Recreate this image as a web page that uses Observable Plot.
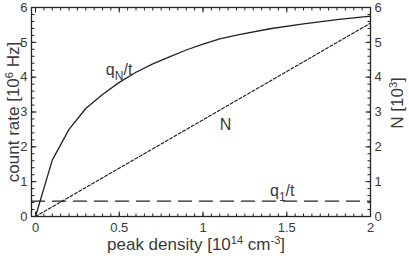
<!DOCTYPE html>
<html><head><meta charset="utf-8">
<script src="https://cdn.jsdelivr.net/npm/d3@7"></script>
<script src="https://cdn.jsdelivr.net/npm/@observablehq/plot@0.6"></script>
<style>
body{margin:0;background:#fff;}
svg{font-family:"Liberation Sans",Arial,sans-serif;}
</style></head>
<body><div id="chart"></div>
<script>
// data
const density = [0, 0.1, 0.2, 0.3, 0.4, 0.5, 0.6, 0.7, 0.8, 0.9, 1.0, 1.1, 1.2, 1.4, 1.6, 1.8, 2.0];
const qNrate  = [0, 1.62, 2.5, 3.1, 3.5, 3.85, 4.14, 4.38, 4.58, 4.78, 4.95, 5.1, 5.21, 5.39, 5.53, 5.65, 5.75];
const nDensity = [0, 2];
const nValues  = [0, 5.55];          // N [10^3]
const q1Density = [-0.024, 2];
const q1Rate    = [0.44, 0.44];
const xTicks = [0, 0.5, 1, 1.5, 2];
const yTicks = [0, 1, 2, 3, 4, 5, 6];
const labelText = ["q_N/t", "N", "q_1/t"];
const labelX = [0.42, 1.10, 1.40];
const labelY = [4.2, 2.62, 0.75];

const xDom = [-0.024, 2], yDom = [0, 6];
const xMinor = d3.range(0, 41).map(i => i * 0.05);
const yMinor = d3.range(0, 31).map(i => i * 0.2);
const qN = density.map((d, i) => ({x: d, y: qNrate[i]}));
const nLine = nDensity.map((d, i) => ({x: d, y: nValues[i]}));
const q1 = q1Density.map((d, i) => ({x: d, y: q1Rate[i]}));
const labels = labelText.map((t, i) => ({t, x: labelX[i], y: labelY[i]}));

const W = 409, H = 262, mL = 31, mR = 39, mT = 7, mB = 46;
const pw = W - mL - mR, ph = H - mT - mB;
const ink = "#222222", txt = "#3a3a3a";
// inward ticks: pixel length converted to data units of each scale
const ux = (xDom[1] - xDom[0]) / pw, uy = (yDom[1] - yDom[0]) / ph;
function tk(data, side, len) {
  const o = {stroke: ink, strokeWidth: 1};
  if (side === "left") return Plot.link(data, {...o, x1: xDom[0], x2: xDom[0] + len * ux, y1: d => d, y2: d => d});
  if (side === "right") return Plot.link(data, {...o, x1: xDom[1], x2: xDom[1] - len * ux, y1: d => d, y2: d => d});
  if (side === "bottom") return Plot.link(data, {...o, y1: yDom[0], y2: yDom[0] + len * uy, x1: d => d, x2: d => d});
  return Plot.link(data, {...o, y1: yDom[1], y2: yDom[1] - len * uy, x1: d => d, x2: d => d});
}

const plot = Plot.plot({
  width: W, height: H,
  marginLeft: mL, marginRight: mR, marginTop: mT, marginBottom: mB,
  x: {domain: xDom},
  y: {domain: yDom},
  style: {fontSize: "13px", color: txt, fontFamily: "Liberation Sans, Arial, sans-serif"},
  marks: [
    tk(yMinor, "left", 3), tk(yTicks, "left", 5),
    tk(yMinor, "right", 3), tk(yTicks, "right", 5),
    tk(xMinor, "bottom", 3), tk(xTicks, "bottom", 5),
    tk(xMinor, "top", 3), tk(xTicks, "top", 5),
    Plot.axisY(yTicks, {anchor: "left", tickSize: 0, tickPadding: 4, label: null, fill: txt}),
    Plot.axisY(yTicks, {anchor: "right", tickSize: 0, tickPadding: 4, label: null, fill: txt}),
    Plot.axisX(xTicks, {anchor: "bottom", tickSize: 0, tickPadding: 6, label: null, fill: txt, tickFormat: d => String(d)}),
    Plot.line(q1, {x: "x", y: "y", stroke: ink, strokeWidth: 1.4, strokeDasharray: "13,8"}),
    Plot.line(nLine, {x: "x", y: "y", stroke: ink, strokeWidth: 1.2, strokeDasharray: "3,2"}),
    Plot.line(qN, {x: "x", y: "y", stroke: ink, strokeWidth: 1.3}),
    Plot.frame({stroke: ink, strokeWidth: 1.3}),
    Plot.text(labels, {x: "x", y: "y", text: "t", textAnchor: "start", fontSize: 16, fill: txt, className: "inlabels"})
  ]
});
document.getElementById("chart").appendChild(plot);

const svg = d3.select(plot);
// subscripts in in-plot labels
svg.selectAll("g.inlabels text").each(function() {
  const s = this.textContent;
  const m = s.match(/^(.*)_(.)(.*)$/);
  if (!m) return;
  const el = d3.select(this); el.text(null);
  el.append("tspan").text(m[1]);
  el.append("tspan").attr("dy", 5).attr("font-size", 12).text(m[2]);
  el.append("tspan").attr("dy", -5).text(m[3]);
});
// axis titles with superscripts
function title(parts, x, y, rot) {
  const t = svg.append("text").attr("transform", `translate(${x},${y}) rotate(${rot})`)
    .attr("text-anchor", "middle").attr("fill", txt).attr("font-size", 17);
  let up = false;
  parts.forEach(([s, sup]) => {
    if (sup) { t.append("tspan").attr("dy", -6).attr("font-size", 11).text(s); up = true; }
    else { t.append("tspan").attr("dy", up ? 6 : 0).text(s); up = false; }
  });
}
title([["peak density [10"], ["14", 1], [" cm"], ["-3", 1], ["]"]], 196, 250, 0);
title([["count rate [10"], ["6", 1], [" Hz]"]], 19, 112, -90);
title([["N [10"], ["3", 1], ["]"]], 403, 103, -90);
</script></body></html>
